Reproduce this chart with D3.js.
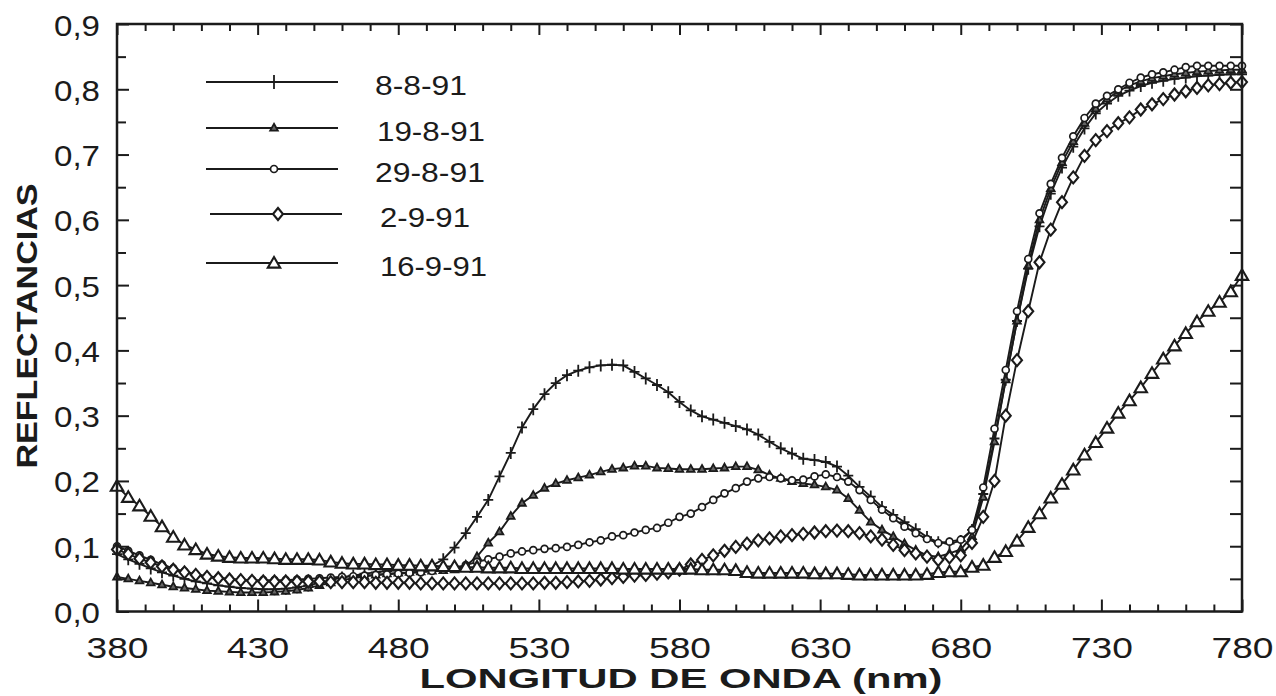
<!DOCTYPE html>
<html><head><meta charset="utf-8">
<script src="https://cdn.jsdelivr.net/npm/d3@7"></script>
<style>body{margin:0;background:#fff} svg{display:block}</style>
</head><body>
<svg id="c" width="1276" height="696"></svg>
<script>
// ---------- DATA ----------
const wavelengths = [380,384,388,392,396,400,404,408,412,416,420,424,428,432,436,440,444,448,452,456,460,464,468,472,476,480,484,488,492,496,500,504,508,512,516,520,524,528,532,536,540,544,548,552,556,560,564,568,572,576,580,584,588,592,596,600,604,608,612,616,620,624,628,632,636,640,644,648,652,656,660,664,668,672,676,680,684,688,692,696,700,704,708,712,716,720,724,728,732,736,740,744,748,752,756,760,764,768,772,776,780];

const s_08_08_91 = [0.088,0.080,0.073,0.066,0.060,0.055,0.050,0.046,0.043,0.040,0.038,0.036,0.035,0.034,0.034,0.035,0.037,0.040,0.044,0.048,0.052,0.055,0.058,0.060,0.062,0.063,0.064,0.066,0.070,0.080,0.098,0.120,0.145,0.171,0.207,0.243,0.282,0.310,0.333,0.350,0.362,0.369,0.374,0.377,0.378,0.377,0.367,0.357,0.347,0.336,0.321,0.308,0.299,0.294,0.289,0.284,0.279,0.271,0.260,0.250,0.242,0.234,0.232,0.229,0.222,0.208,0.191,0.176,0.160,0.148,0.137,0.126,0.114,0.106,0.104,0.108,0.125,0.180,0.265,0.355,0.445,0.525,0.590,0.640,0.680,0.712,0.740,0.763,0.778,0.790,0.798,0.805,0.810,0.813,0.816,0.818,0.820,0.821,0.822,0.823,0.823];

const s_19_08_91 = [0.053,0.050,0.047,0.044,0.041,0.038,0.036,0.034,0.032,0.031,0.030,0.029,0.029,0.029,0.030,0.031,0.033,0.036,0.040,0.044,0.048,0.051,0.054,0.056,0.058,0.059,0.060,0.061,0.062,0.063,0.064,0.070,0.084,0.105,0.122,0.146,0.166,0.178,0.189,0.196,0.201,0.205,0.209,0.214,0.218,0.220,0.223,0.223,0.220,0.219,0.218,0.218,0.218,0.219,0.220,0.222,0.222,0.217,0.209,0.204,0.199,0.196,0.194,0.191,0.186,0.173,0.155,0.137,0.125,0.115,0.104,0.094,0.086,0.084,0.089,0.095,0.115,0.175,0.260,0.355,0.445,0.530,0.600,0.648,0.688,0.720,0.748,0.770,0.785,0.797,0.806,0.812,0.817,0.820,0.823,0.825,0.827,0.828,0.829,0.830,0.830];

const s_29_08_91 = [0.100,0.093,0.086,0.079,0.072,0.066,0.061,0.057,0.054,0.052,0.050,0.049,0.048,0.048,0.048,0.048,0.049,0.050,0.051,0.052,0.053,0.054,0.055,0.056,0.057,0.058,0.059,0.060,0.062,0.064,0.067,0.071,0.076,0.080,0.084,0.089,0.092,0.094,0.096,0.097,0.099,0.102,0.106,0.109,0.115,0.117,0.121,0.125,0.128,0.136,0.145,0.150,0.160,0.171,0.181,0.189,0.199,0.204,0.206,0.204,0.201,0.202,0.207,0.210,0.206,0.199,0.186,0.171,0.156,0.143,0.130,0.120,0.111,0.105,0.107,0.110,0.125,0.190,0.280,0.370,0.460,0.540,0.610,0.655,0.695,0.728,0.756,0.778,0.790,0.800,0.810,0.818,0.823,0.826,0.830,0.834,0.836,0.836,0.836,0.836,0.836];

const s_02_09_91 = [0.095,0.088,0.081,0.075,0.069,0.064,0.060,0.056,0.053,0.051,0.049,0.048,0.047,0.046,0.046,0.046,0.046,0.046,0.046,0.045,0.045,0.045,0.045,0.044,0.044,0.044,0.044,0.043,0.043,0.043,0.043,0.043,0.043,0.043,0.043,0.043,0.043,0.043,0.044,0.044,0.045,0.046,0.047,0.049,0.051,0.053,0.055,0.056,0.058,0.060,0.064,0.072,0.079,0.086,0.093,0.099,0.104,0.109,0.112,0.115,0.117,0.119,0.121,0.123,0.124,0.123,0.120,0.115,0.110,0.102,0.094,0.089,0.084,0.079,0.083,0.086,0.105,0.145,0.200,0.300,0.385,0.460,0.535,0.585,0.627,0.665,0.698,0.722,0.736,0.748,0.757,0.769,0.777,0.785,0.792,0.797,0.802,0.806,0.808,0.810,0.811];

const s_16_09_91 = [0.192,0.175,0.162,0.146,0.130,0.114,0.102,0.095,0.088,0.085,0.083,0.082,0.082,0.082,0.081,0.080,0.080,0.080,0.079,0.076,0.074,0.073,0.073,0.072,0.072,0.071,0.071,0.070,0.070,0.069,0.069,0.068,0.068,0.067,0.067,0.067,0.066,0.066,0.066,0.066,0.066,0.066,0.066,0.066,0.066,0.065,0.065,0.065,0.065,0.065,0.065,0.065,0.064,0.064,0.064,0.063,0.060,0.059,0.059,0.059,0.059,0.059,0.058,0.058,0.058,0.057,0.056,0.056,0.056,0.056,0.056,0.056,0.057,0.060,0.061,0.061,0.068,0.071,0.083,0.092,0.108,0.129,0.150,0.174,0.195,0.217,0.240,0.259,0.281,0.304,0.323,0.343,0.365,0.387,0.407,0.426,0.444,0.460,0.474,0.490,0.515];

const seriesNames = ["8-8-91","19-8-91","29-8-91","2-9-91","16-9-91"];
const seriesMarkers = ["plus","smalltri","circle","diamond","bigtri"];
const xTickValues = [380,430,480,530,580,630,680,730,780];
const xTickLabels = ["380","430","480","530","580","630","680","730","780"];
const yTickValues = [0,0.1,0.2,0.3,0.4,0.5,0.6,0.7,0.8,0.9];
const yTickLabels = ["0,0","0,1","0,2","0,3","0,4","0,5","0,6","0,7","0,8","0,9"];
const xTitle = "LONGITUD DE ONDA (nm)";
const yTitle = "REFLECTANCIAS";

// ---------- CHART ----------
const allSeries = [s_08_08_91, s_19_08_91, s_29_08_91, s_02_09_91, s_16_09_91];
const svg = d3.select("#c");
const FONT = "'Liberation Sans', Arial, Helvetica, sans-serif";
const INK = "#1b1b1b";
const L = 117, R = 1242, T = 24, B = 611.5;
const x = d3.scaleLinear().domain([380, 780]).range([L, R]);
const y = d3.scaleLinear().domain([0, 0.9]).range([B, T]);

const markerPath = {
  plus: "M-5,0H5M0,-6V6",
  smalltri: "M0,-4.2L3.8,2.6L-3.8,2.6Z",
  circle: d3.symbol(d3.symbolCircle, 38)(),
  diamond: "M0,-6L5,0L0,6L-5,0Z",
  bigtri: "M0,-6L6.2,4.6L-6.2,4.6Z"
};
const markerFill = {plus: "none", smalltri: "#666", circle: "#fff", diamond: "#fff", bigtri: "#fff"};
const markerWidth = {plus: 1.8, smalltri: 1.8, circle: 1.7, diamond: 2.1, bigtri: 2.1};

// lines
const line = d3.line().x((d, i) => x(wavelengths[i])).y(d => y(d));
const gPlot = svg.append("g");
allSeries.forEach((s, k) => {
  const g = gPlot.append("g");
  g.append("path").attr("d", line(s)).attr("fill", "none")
    .attr("stroke", INK).attr("stroke-width", 1.9);
  const mk = seriesMarkers[k];
  g.selectAll("path.m").data(s).join("path").attr("class", "m")
    .attr("d", markerPath[mk])
    .attr("transform", (d, i) => `translate(${x(wavelengths[i])},${y(d)})`)
    .attr("fill", markerFill[mk]).attr("stroke", INK)
    .attr("stroke-width", markerWidth[mk]);
});

// axes ticks
const xMinor = d3.range(380, 781, 10).filter(v => (v - 380) % 50 !== 0);
const yMinor = [0.05,0.15,0.25,0.35,0.45,0.55,0.65,0.75,0.85];
function styleAxis(g) {
  g.select(".domain").remove();
  g.selectAll(".tick line").attr("stroke", INK).attr("stroke-width", 2);
}
svg.append("g").attr("transform", `translate(0,${B})`)
  .call(d3.axisBottom(x).tickValues(xMinor).tickSize(-7).tickFormat("")).call(styleAxis);
svg.append("g").attr("transform", `translate(0,${T})`)
  .call(d3.axisTop(x).tickValues(xMinor).tickSize(-7).tickFormat("")).call(styleAxis);
svg.append("g").attr("transform", `translate(0,${T})`)
  .call(d3.axisTop(x).tickValues(xTickValues).tickSize(-11).tickFormat("")).call(styleAxis);
svg.append("g").attr("transform", `translate(${L},0)`)
  .call(d3.axisLeft(y).tickValues(yMinor).tickSize(-9).tickFormat("")).call(styleAxis);
svg.append("g").attr("transform", `translate(${R},0)`)
  .call(d3.axisRight(y).tickValues(yMinor).tickSize(-12).tickFormat("")).call(styleAxis);
svg.append("g").attr("transform", `translate(${R},0)`)
  .call(d3.axisRight(y).tickValues(yTickValues).tickSize(-12).tickFormat("")).call(styleAxis);

// major bottom with labels
const gxb = svg.append("g").attr("transform", `translate(0,${B})`)
  .call(d3.axisBottom(x).tickValues(xTickValues).tickSize(-12).tickFormat((d, i) => xTickLabels[i]))
  .call(styleAxis);
gxb.selectAll(".tick text").attr("y", 46).attr("dy", null)
  .attr("font-family", FONT).attr("font-size", 30).attr("fill", INK)
  .attr("text-anchor", "middle").attr("textLength", 62).attr("lengthAdjust", "spacingAndGlyphs");

// major left with labels
const gyl = svg.append("g").attr("transform", `translate(${L},0)`)
  .call(d3.axisLeft(y).tickValues(yTickValues).tickSize(-12).tickFormat((d, i) => yTickLabels[i]))
  .call(styleAxis);
gyl.selectAll(".tick text").attr("x", -17).attr("dy", 11)
  .attr("font-family", FONT).attr("font-size", 30).attr("fill", INK)
  .attr("text-anchor", "end").attr("textLength", 46).attr("lengthAdjust", "spacingAndGlyphs");

// frame
svg.append("rect").attr("x", L).attr("y", T).attr("width", R - L).attr("height", B - T)
  .attr("fill", "none").attr("stroke", INK).attr("stroke-width", 2.5);

// titles
svg.append("text").attr("x", 681).attr("y", 688).attr("text-anchor", "middle")
  .attr("font-family", FONT).attr("font-weight", "bold").attr("font-size", 27)
  .attr("fill", INK).attr("textLength", 523).attr("lengthAdjust", "spacingAndGlyphs")
  .text(xTitle);
svg.append("text").attr("transform", "translate(37,326) rotate(-90)").attr("text-anchor", "middle")
  .attr("font-family", FONT).attr("font-weight", "bold").attr("font-size", 30)
  .attr("fill", INK).attr("textLength", 285).attr("lengthAdjust", "spacingAndGlyphs")
  .text(yTitle);

// legend
const legendY = [82, 128, 169, 214, 263];
const legendTextLen = [92, 108, 110, 90, 107];
const legendTextX = [375, 377, 375, 380, 380];
const lg = svg.append("g");
seriesNames.forEach((name, k) => {
  const ly = legendY[k];
  const mk = seriesMarkers[k];
  const x0 = k === 3 ? 210 : 206;
  lg.append("line").attr("x1", x0).attr("x2", x0 + 132).attr("y1", ly).attr("y2", ly)
    .attr("stroke", INK).attr("stroke-width", 1.9);
  lg.append("path").attr("d", mk === "plus" ? "M0,-7V7" : markerPath[mk])
    .attr("transform", `translate(${x0 + 68},${ly})`)
    .attr("fill", markerFill[mk]).attr("stroke", INK).attr("stroke-width", markerWidth[mk]);
  lg.append("text").attr("x", legendTextX[k]).attr("y", ly + 13)
    .attr("font-family", FONT).attr("font-size", 28).attr("fill", INK)
    .attr("textLength", legendTextLen[k]).attr("lengthAdjust", "spacingAndGlyphs")
    .text(name);
});
</script>
</body></html>
